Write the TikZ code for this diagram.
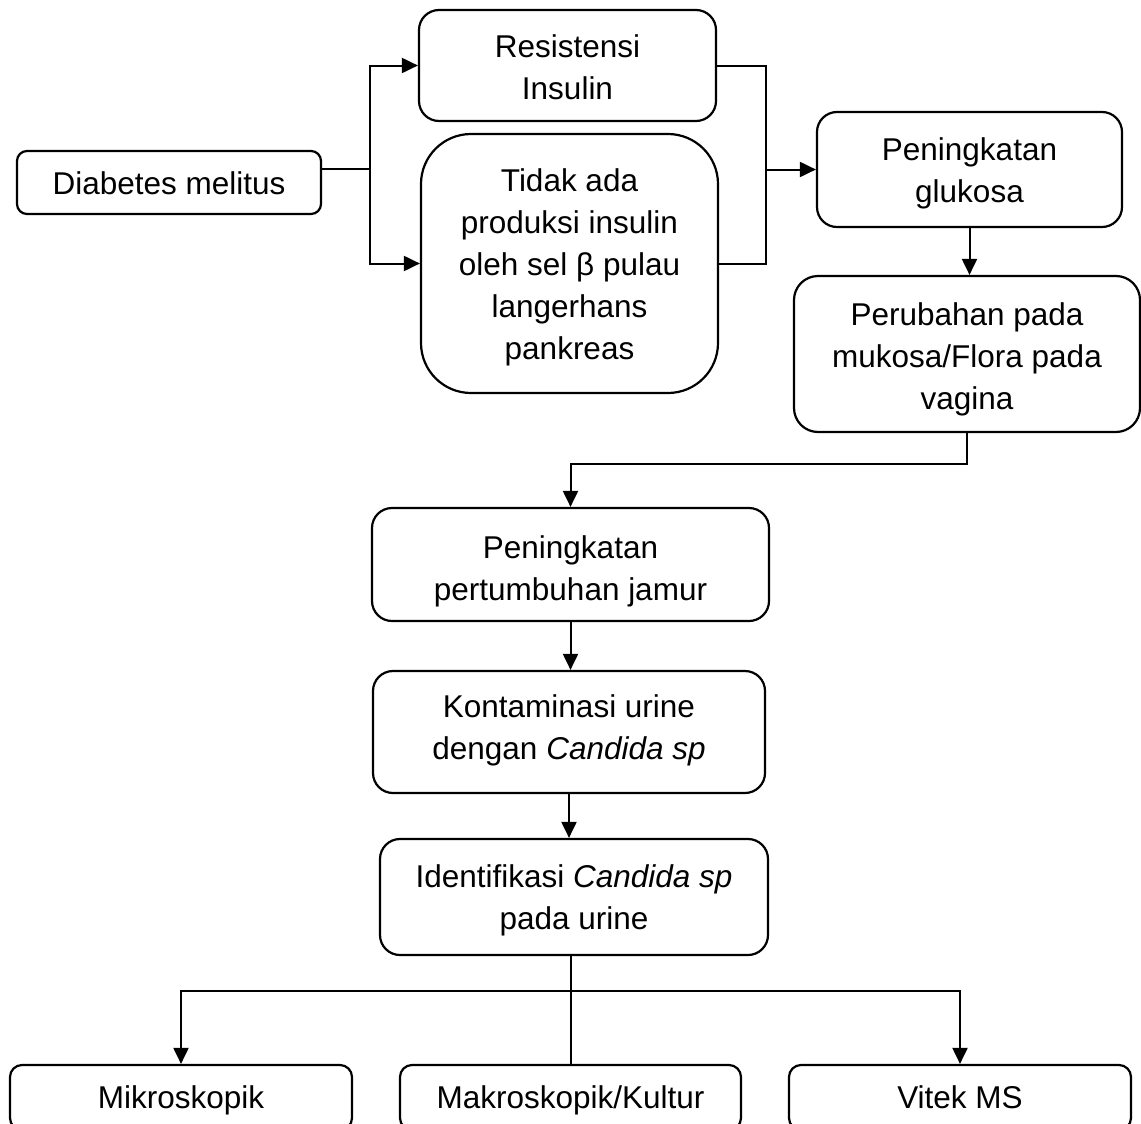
\documentclass[tikz,border=0pt]{standalone}
\usepackage{fontspec}
\setmainfont{Liberation Sans}
\usetikzlibrary{arrows.meta}
\begin{document}
\begin{tikzpicture}[x=0.5pt,y=-0.5pt,
  box/.style={draw, line width=1.1pt, rectangle, inner sep=0pt},
  txt/.style={inner sep=0pt, align=center, font=\fontsize{15.75pt}{21pt}\selectfont},
  conn/.style={line width=1pt},
  arr/.style={line width=1pt, -{Triangle[length=8pt,width=7.5pt]}}]
\useasboundingbox (0,0) rectangle (1141,1124);
\clip (0,0) rectangle (1141,1124);
\fill[white] (0,0) rectangle (1141,1124);
% boxes
\node[box, rounded corners=5pt, minimum width=152pt, minimum height=31.5pt] (dm) at (169,182.5) {};
\node[box, rounded corners=10pt, minimum width=148.5pt, minimum height=55.5pt] (ri) at (567.5,65.5) {};
\node[box, rounded corners=25pt, minimum width=148.5pt, minimum height=129.5pt] (ti) at (569.5,263.5) {};
\node[box, rounded corners=10pt, minimum width=152.5pt, minimum height=57.5pt] (pg) at (969.5,169.5) {};
\node[box, rounded corners=12pt, minimum width=173pt, minimum height=78pt] (pm) at (967,354) {};
\node[box, rounded corners=10pt, minimum width=198.5pt, minimum height=56.5pt] (pj) at (570.5,564.5) {};
\node[box, rounded corners=10pt, minimum width=196pt, minimum height=61pt] (kc) at (569,732) {};
\node[box, rounded corners=10pt, minimum width=194pt, minimum height=58pt] (ic) at (574,897) {};
\node[box, rounded corners=6pt, minimum width=171pt, minimum height=32.5pt] (mi) at (181,1097.5) {};
\node[box, rounded corners=6pt, minimum width=170.5pt, minimum height=32.5pt] (mk) at (570.5,1097.5) {};
\node[box, rounded corners=6pt, minimum width=171pt, minimum height=32.5pt] (vm) at (960,1097.5) {};
% texts
\node[txt] (dm-t) at ([yshift=-2pt]dm.center) {\strut Diabetes melitus};
\node[txt] (ri-t) at ([yshift=-1pt]ri.center) {Resistensi\\Insulin};
\node[txt] (ti-t) at ([yshift=-2pt]ti.center) {Tidak ada\\produksi insulin\\oleh sel β pulau\\langerhans\\pankreas};
\node[txt] (pg-t) at ([yshift=-2pt]pg.center) {Peningkatan\\glukosa};
\node[txt] (pm-t) at ([yshift=-2.5pt]pm.center) {Perubahan pada\\mukosa/Flora pada\\vagina};
\node[txt] (pj-t) at ([yshift=-3.5pt]pj.center) {Peningkatan\\pertumbuhan jamur};
\node[txt] (kc-t) at ([yshift=1pt]kc.center) {Kontaminasi urine\\dengan \textit{Candida sp}};
\node[txt] (ic-t) at ([yshift=-1.5pt]ic.center) {Identifikasi \textit{Candida sp}\\pada urine};
\node[txt] (mi-t) at ([yshift=-1.5pt]mi.center) {\strut Mikroskopik};
\node[txt] (mk-t) at ([yshift=-1.5pt]mk.center) {\strut Makroskopik/Kultur};
\node[txt] (vm-t) at ([yshift=-1.5pt]vm.center) {\strut Vitek MS};
% junctions
\coordinate (j1) at (370,169);
\coordinate (j2) at (766,169.5);
\coordinate (j3) at (570.5,464);
\coordinate (j4) at (571,991);
% connectors
\draw[conn] (j1 -| dm.east) -- (j1);
\draw[arr] (j1) |- (ri.west);
\draw[arr] (j1) |- (ti.west);
\draw[conn] (ri.east) -| (ti.east -| j2) -- (ti.east);
\draw[arr] (j2) -- (pg.west);
\draw[arr] (pg.south) -- (pg.south |- pm.north);
\draw[arr] (pm.south) -- (pm.south |- j3) -- (j3) -- (pj.north);
\draw[arr] (pj.south) -- (pj.south |- kc.north);
\draw[arr] (kc.south) -- (kc.south |- ic.north);
\draw[conn] (ic.south -| j4) -- (j4 |- mk.north);
\draw[arr] (j4) -| (mi.north);
\draw[arr] (j4) -| (vm.north);
\end{tikzpicture}
\end{document}
